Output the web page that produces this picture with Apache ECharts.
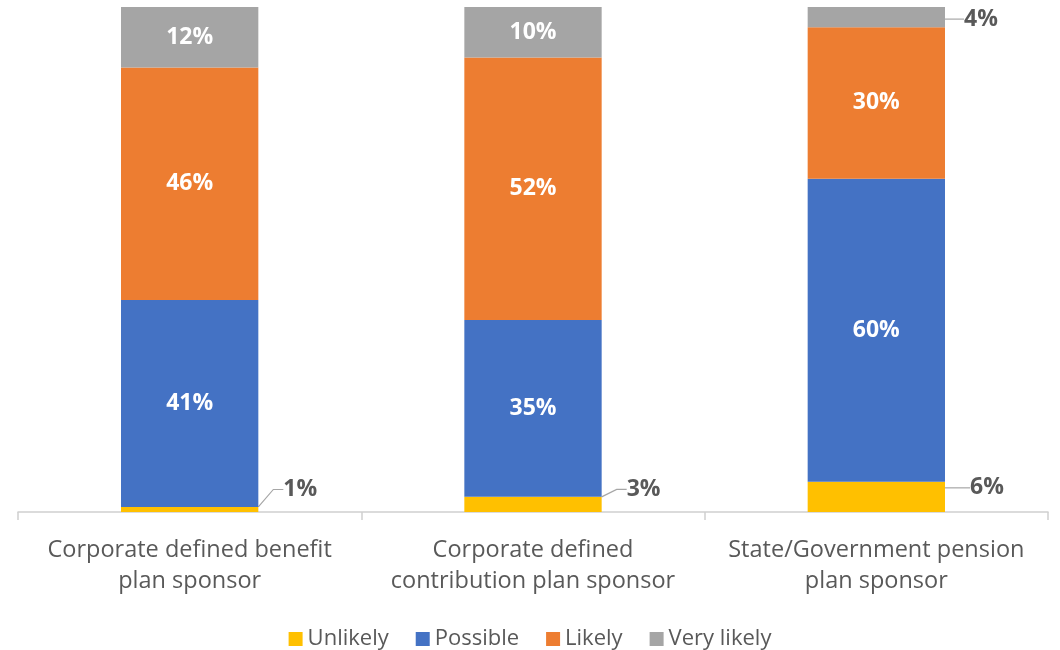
<!DOCTYPE html>
<html><head><meta charset="utf-8">
<script src="https://cdn.jsdelivr.net/npm/echarts@6/dist/echarts.min.js"></script>
<style>html,body{margin:0;padding:0;background:#fff}#c{width:1060px;height:650px}</style>
</head><body><div id="c"></div>
<script>
const categories = ['Corporate defined benefit\nplan sponsor', 'Corporate defined\ncontribution plan sponsor', 'State/Government pension\nplan sponsor'];
const unlikely = [1, 3, 6];
const possible = [41, 35, 60];
const likely = [46, 52, 30];
const veryLikely = [12, 10, 4];
const seriesNames = ['Unlikely', 'Possible', 'Likely', 'Very likely'];
const colors = ['#FFC000', '#4472C4', '#ED7D31', '#A5A5A5'];

const FONT = 'Open Sans';
const inLabel = {show: true, position: 'inside', color: '#fff', fontFamily: FONT, fontWeight: 'bold', fontSize: 23, formatter: '{c}%'};
const outLabel = {show: true, position: 'right', distance: 4, color: '#595959', fontFamily: FONT, fontWeight: 'bold', fontSize: 23, formatter: '{c}%'};
const lineStyle = {color: '#A6A6A6', width: 1.2};

const chart = echarts.init(document.getElementById('c'));
chart.setOption({
  animation: false,
  color: colors,
  grid: {left: 18, right: 12, top: 7, bottom: 138, containLabel: false},
  legend: {
    top: 623, left: 'center', itemWidth: 14, itemHeight: 14, itemGap: 27,
    icon: 'rect',
    textStyle: {color: '#595959', fontFamily: FONT, fontSize: 22},
    data: seriesNames
  },
  xAxis: {
    type: 'category', data: categories,
    axisLine: {lineStyle: {color: '#D0D0D0', width: 1.5}},
    axisTick: {show: true, length: 8, lineStyle: {color: '#D0D0D0', width: 1.5}},
    axisLabel: {interval: 0, hideOverlap: false, color: '#595959', fontFamily: FONT, fontSize: 23.5, lineHeight: 31, margin: 23}
  },
  yAxis: {type: 'value', min: 0, max: 100, show: false, splitLine: {show: false}},
  series: [
    {name: seriesNames[0], type: 'bar', stack: 's', barWidth: '40%', data: unlikely,
      label: outLabel,
      labelLine: {show: true, length2: 10, lineStyle: lineStyle},
      labelLayout: p => ({dx: 21, dy: [-20, -15, -9][p.dataIndex]})},
    {name: seriesNames[1], type: 'bar', stack: 's', data: possible, label: inLabel},
    {name: seriesNames[2], type: 'bar', stack: 's', data: likely, label: inLabel},
    {name: seriesNames[3], type: 'bar', stack: 's', data: veryLikely.map((v, i) => i === 2 ? {value: v, label: outLabel, labelLine: {show: true, lineStyle: lineStyle}} : v),
      label: inLabel,
      labelLayout: p => p.dataIndex === 2 ? {dx: 15, dy: 2} : {}}
  ]
});
</script></body></html>
